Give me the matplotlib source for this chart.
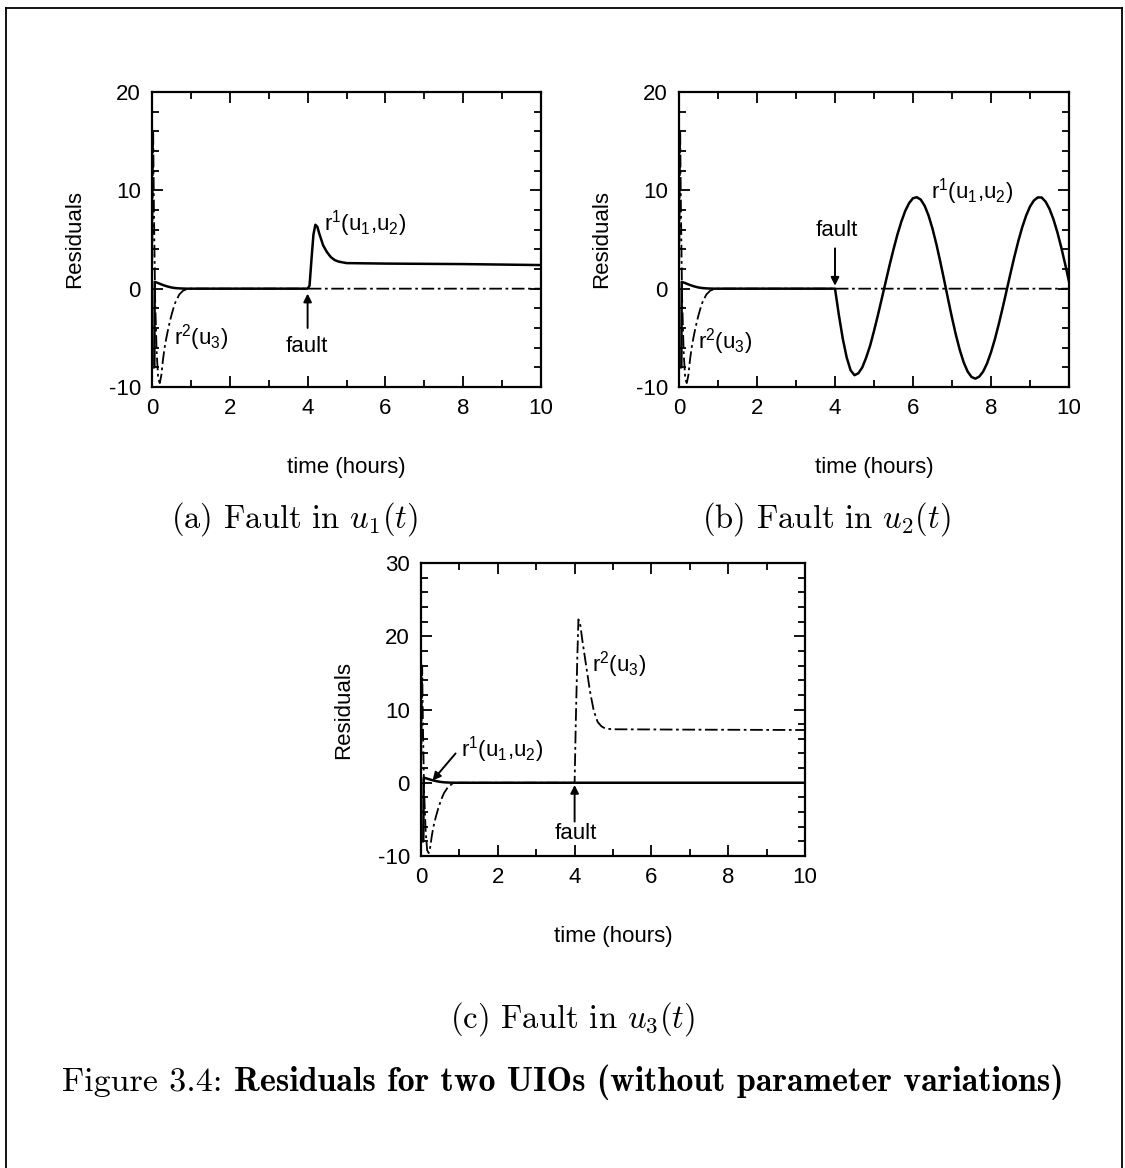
import matplotlib
matplotlib.use("Agg")
import matplotlib.pyplot as plt
from matplotlib.lines import Line2D
from matplotlib.ticker import MultipleLocator

plt.rcParams['font.family'] = ['Liberation Sans', 'DejaVu Sans']
plt.rcParams['axes.unicode_minus'] = False
plt.rcParams['mathtext.fontset'] = 'custom'
plt.rcParams['mathtext.rm'] = 'Liberation Sans'
plt.rcParams['mathtext.it'] = 'Liberation Sans:italic'
plt.rcParams['mathtext.bf'] = 'Liberation Sans:bold'

# start-up transient shared by all runs
t_init = [0.0, 0.02, 0.06, 0.07, 0.1, 0.15, 0.2, 0.25, 0.3, 0.35, 0.4, 0.5, 0.6, 0.7, 0.8, 0.9, 1.0]
r1_init = [-8.0, -8.0, -8.0, 0.7, 0.65, 0.58, 0.5, 0.42, 0.35, 0.28, 0.22, 0.12, 0.06, 0.03, 0.01, 0.0, 0.0]

t_init2 = [0.0, 0.03, 0.05, 0.08, 0.12, 0.16, 0.2, 0.24, 0.28, 0.32, 0.36, 0.4, 0.45, 0.5,
           0.55, 0.6, 0.7, 0.8, 0.9, 1.0]
r2_init = [0.0, 16.0, 8.0, -1.0, -6.5, -9.2, -9.6, -8.8, -7.3, -6.1, -5.2, -4.4, -3.5, -2.7,
           -2.0, -1.4, -0.6, -0.2, -0.05, 0.0]

# (a) fault in u1: r1 steps up
t_a = [4.0, 4.05, 4.1, 4.15, 4.2, 4.25, 4.3, 4.4, 4.5, 4.6, 4.7, 4.8, 5.0, 6.0, 8.0, 10.0]
r1_a = [0.0, 0.3, 3.0, 5.5, 6.5, 6.3, 5.6, 4.4, 3.7, 3.2, 2.9, 2.75, 2.6, 2.55, 2.5, 2.4]

# (b) fault in u2: r1 oscillates
t_b = [4.0, 4.1, 4.2, 4.3, 4.4, 4.5, 4.6, 4.7, 4.8, 4.9, 5.0, 5.1, 5.2, 5.3, 5.4, 5.5,
       5.6, 5.7, 5.8, 5.9, 6.0, 6.1, 6.2, 6.3, 6.4, 6.5, 6.6, 6.7, 6.8, 6.9, 7.0, 7.1,
       7.2, 7.3, 7.4, 7.5, 7.6, 7.7, 7.8, 7.9, 8.0, 8.1, 8.2, 8.3, 8.4, 8.5, 8.6, 8.7,
       8.8, 8.9, 9.0, 9.1, 9.2, 9.3, 9.4, 9.5, 9.6, 9.7, 9.8, 9.9, 10.0]
r1_b = [0.0, -2.7, -5.1, -7.0, -8.3, -8.8, -8.6, -8.0, -7.0, -5.8, -4.3, -2.7, -1.0, 0.7,
        2.4, 4.0, 5.5, 6.8, 7.9, 8.7, 9.2, 9.3, 9.05, 8.42, 7.42, 6.1, 4.52, 2.73, 0.85,
        -1.08, -2.96, -4.7, -6.24, -7.5, -8.42, -8.98, -9.15, -8.94, -8.42, -7.59, -6.47,
        -5.13, -3.59, -1.93, -0.19, 1.56, 3.26, 4.83, 6.24, 7.42, 8.35, 8.97, 9.28, 9.27,
        8.85, 8.11, 7.07, 5.76, 4.22, 2.52, 0.73]

# (c) fault in u3: r2 steps up
t_c = [4.0, 4.03, 4.07, 4.1, 4.15, 4.2, 4.3, 4.4, 4.5, 4.6, 4.7, 4.8, 5.0, 7.0, 10.0]
r2_c = [0.0, 8.0, 17.0, 22.3, 21.5, 19.5, 16.0, 12.5, 9.8, 8.3, 7.7, 7.4, 7.3, 7.25, 7.2]

ylims = [(-10, 20), (-10, 20), (-10, 30)]

W, H = 1125, 1168
fig = plt.figure(figsize=(W / 100, H / 100), dpi=100)


def px_axes(x0, y0, x1, y1):
    return fig.add_axes([x0 / W, 1 - y1 / H, (x1 - x0) / W, (y1 - y0) / H])


def style(ax, ylim):
    ax.set_xlim(0, 10)
    ax.set_ylim(*ylim)
    ax.xaxis.set_major_locator(MultipleLocator(2))
    ax.xaxis.set_minor_locator(MultipleLocator(1))
    ax.yaxis.set_major_locator(MultipleLocator(10))
    ax.yaxis.set_minor_locator(MultipleLocator(2))
    ax.tick_params(which='both', direction='in', top=True, right=True, width=1.3, labelsize=16)
    ax.tick_params(which='major', length=8, pad=8)
    ax.tick_params(which='minor', length=5)
    for sp in ax.spines.values():
        sp.set_linewidth(1.6)
    ax.set_ylabel("Residuals", fontsize=16, labelpad=17)
    ax.set_xlabel("time (hours)", fontsize=16, labelpad=27)


solid = dict(color='black', lw=1.8)
dashdot = dict(color='black', lw=1.3, linestyle=(0, (7, 2, 1.5, 2)))
arrow = dict(arrowstyle='-|>', color='black', lw=1.4, mutation_scale=12, shrinkA=0, shrinkB=0)
lab = dict(fontsize=16, math_fontfamily='custom')

axes = [px_axes(152, 92, 541, 387), px_axes(679, 92, 1069, 387), px_axes(421, 563, 805, 856)]
r1_series = [t_init + t_a, t_init + t_b, t_init + [10.0]]
r1_values = [r1_init + r1_a, r1_init + r1_b, r1_init + [0.0]]
r2_series = [t_init2 + [10.0], t_init2 + [10.0], t_init2 + t_c]
r2_values = [r2_init + [0.0], r2_init + [0.0], r2_init + r2_c]

for ax, tt1, rr1, tt2, rr2, yl in zip(axes, r1_series, r1_values, r2_series, r2_values, ylims):
    style(ax, yl)
    ax.plot(tt2, rr2, **dashdot)
    ax.plot(tt1, rr1, **solid)

# annotations
ax = axes[0]
ax.text(4.42, 6.6, r"r$^1$(u$_1$,u$_2$)", va='center', ha='left', **lab)
ax.text(0.56, -5.0, r"r$^2$(u$_3$)", va='center', ha='left', **lab)
ax.text(3.98, -5.9, "fault", va='center', ha='center', fontsize=16)
ax.annotate('', xy=(4.0, -0.5), xytext=(4.0, -4.0), arrowprops=arrow)

ax = axes[1]
ax.text(6.45, 9.9, r"r$^1$(u$_1$,u$_2$)", va='center', ha='left', **lab)
ax.text(0.5, -5.4, r"r$^2$(u$_3$)", va='center', ha='left', **lab)
ax.text(4.04, 5.9, "fault", va='center', ha='center', fontsize=16)
ax.annotate('', xy=(4.0, 0.3), xytext=(4.0, 4.1), arrowprops=arrow)

ax = axes[2]
ax.text(4.45, 16.1, r"r$^2$(u$_3$)", va='center', ha='left', **lab)
ax.text(1.05, 4.6, r"r$^1$(u$_1$,u$_2$)", va='center', ha='left', **lab)
ax.annotate('', xy=(0.3, 0.3), xytext=(0.9, 4.0), arrowprops=arrow)
ax.text(4.04, -6.9, "fault", va='center', ha='center', fontsize=16)
ax.annotate('', xy=(4.0, -0.3), xytext=(4.0, -5.3), arrowprops=arrow)

# sub captions
cap = dict(fontsize=23.5, family='cmr10', math_fontfamily='cm', ha='center', va='center')
fig.text(294 / W, 1 - 519 / H, r"(a) Fault in $u_1(t)$", **cap)
fig.text(826 / W, 1 - 519 / H, r"(b) Fault in $u_2(t)$", **cap)
fig.text(573 / W, 1 - 1019 / H, r"(c) Fault in $u_3(t)$", **cap)

# figure caption: regular part then bold part
t1 = fig.text(62 / W, 1 - 1082 / H, "Figure 3.4: ", family='cmr10', fontsize=24.5, va='center', ha='left')
fig.canvas.draw()
bb = t1.get_window_extent()
fig.text(bb.x1 / W, 1 - 1082 / H, "Residuals for two UIOs (without parameter variations)",
         family='cmb10', fontsize=24.5, va='center', ha='left')

# page frame
for xs, ys in [([6, 6], [8, H]), ([6, 1122], [8, 8]), ([1122, 1122], [8, H])]:
    fig.add_artist(Line2D([x / W for x in xs], [1 - y / H for y in ys], color='black', lw=1.3))

fig.savefig("out.png", dpi=100)
